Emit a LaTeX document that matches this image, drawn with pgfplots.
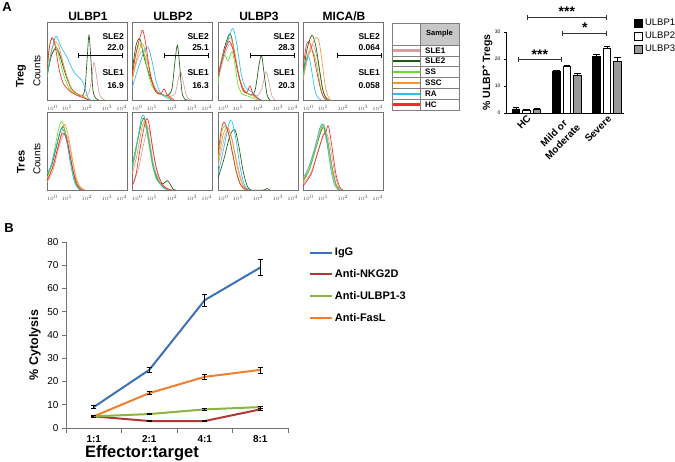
\documentclass[border=0pt]{standalone}
\usepackage{fontspec}
\setmainfont{Liberation Sans}
\usepackage{pgfplots}
\pgfplotsset{compat=1.18}
\usetikzlibrary{arrows.meta}

\definecolor{cSLEa}{RGB}{215,160,160}
\definecolor{cSLEb}{RGB}{30,90,20}
\definecolor{cSS}{RGB}{100,225,40}
\definecolor{cSSC}{RGB}{248,150,50}
\definecolor{cRA}{RGB}{40,190,240}
\definecolor{cHC}{RGB}{250,40,40}
\definecolor{cIgG}{RGB}{61,113,182}
\definecolor{cNKG}{RGB}{175,57,52}
\definecolor{cULB}{RGB}{140,180,65}
\definecolor{cFas}{RGB}{240,128,48}

\newcommand{\fs}[2]{\fontsize{#1}{#2}\selectfont}

\tikzset{
  hSLEa/.style={color=cSLEa},
  hSLEb/.style={color=cSLEb},
  hSS/.style={color=cSS},
  hSSC/.style={color=cSSC},
  hRA/.style={color=cRA},
  hHC/.style={color=cHC},
  gate/.style={black, line width=0.9pt, {Bar[width=5pt]}-{Bar[width=5pt]}},
  sig/.style={black!80, line width=0.8pt, {Bar[width=5pt]}-{Bar[width=5pt]}},
}

\pgfplotsset{
  hist/.style={
    scale only axis, width=80pt, height=78pt, anchor=north west,
    xmin=0, xmax=4, ymin=0, ymax=1,
    xtick={0,1,2,3,4},
    xticklabels={\rlap{$10^0$},$10^1$,$10^2$,$10^3$,\llap{$10^4$}},
    ytick=\empty,
    xticklabel style={font=\fs{2.8}{3}, text=black!70},
    major tick length=1.5pt, xtick align=outside, xtick pos=left,
    axis line style={black!55, line width=0.7pt},
    every axis plot/.append style={line width=0.65pt, smooth, mark=none, tension=0.5},
  },
  errB/.style={line width=2pt, mark=none,
    /pgfplots/error bars/.cd, y dir=both, y explicit,
    error bar style={black, line width=0.6pt},
    error mark options={rotate=90, black, mark size=2.5pt, line width=0.6pt}},
  errA/.style={
    /pgfplots/error bars/.cd, y dir=plus, y explicit,
    error bar style={black, line width=0.8pt},
    error mark options={rotate=90, black, mark size=3.3pt, line width=0.8pt}},
}

\begin{document}
\begin{tikzpicture}[x=1pt,y=1pt]
\useasboundingbox (0,0) rectangle (675,461);

% ---------- Treg row ----------
\begin{axis}[hist, at={(47pt,439pt)}]
\addplot[hSLEa] coordinates {(0,0.3) (0.2,0.55) (0.45,0.68) (0.7,0.55) (1.0,0.3) (1.3,0.12) (1.6,0.07) (1.9,0.05) (2.1,0.1) (2.25,0.3) (2.35,0.48) (2.45,0.35) (2.6,0.1) (2.75,0.02) (2.9,0)};
\addplot[hSLEb] coordinates {(0,0.3) (0.2,0.55) (0.4,0.65) (0.6,0.6) (0.9,0.35) (1.2,0.15) (1.5,0.08) (1.75,0.05) (1.9,0.15) (2.0,0.5) (2.1,0.83) (2.2,0.5) (2.3,0.12) (2.45,0.02) (2.6,0)};
\addplot[hSS] coordinates {(0,0.35) (0.15,0.72) (0.3,0.78) (0.5,0.65) (0.8,0.35) (1.1,0.15) (1.4,0.08) (1.7,0.06) (1.9,0.02) (2.1,0)};
\addplot[hSSC] coordinates {(0,0.3) (0.2,0.6) (0.4,0.75) (0.6,0.68) (0.9,0.38) (1.2,0.15) (1.5,0.08) (1.8,0.05) (2.1,0)};
\addplot[hRA] coordinates {(0,0.3) (0.2,0.6) (0.45,0.82) (0.7,0.68) (1.0,0.55) (1.3,0.38) (1.55,0.3) (1.75,0.25) (1.9,0.15) (2.05,0.03) (2.2,0)};
\addplot[hHC] coordinates {(0,0.35) (0.1,0.65) (0.25,0.8) (0.4,0.7) (0.6,0.4) (0.8,0.22) (1.0,0.15) (1.2,0.1) (1.5,0.06) (1.8,0.03) (2.1,0)};
\draw[gate] (axis cs:1.57,0.57) -- (axis cs:3.77,0.57);
\end{axis}

\begin{axis}[hist, at={(132pt,439pt)}]
\addplot[hSLEa] coordinates {(0,0.25) (0.25,0.5) (0.5,0.62) (0.75,0.5) (1.0,0.25) (1.3,0.1) (1.6,0.06) (1.9,0.05) (2.15,0.08) (2.3,0.25) (2.43,0.36) (2.55,0.25) (2.7,0.07) (2.85,0.01) (3.0,0)};
\addplot[hSLEb] coordinates {(0,0.35) (0.2,0.7) (0.4,0.78) (0.6,0.55) (0.9,0.3) (1.2,0.12) (1.5,0.07) (1.8,0.06) (2.0,0.15) (2.15,0.5) (2.27,0.7) (2.38,0.45) (2.5,0.1) (2.65,0.01) (2.8,0)};
\addplot[hSS] coordinates {(0,0.3) (0.2,0.6) (0.4,0.72) (0.6,0.6) (0.8,0.35) (1.0,0.18) (1.3,0.08) (1.6,0.06) (1.8,0.04) (2.0,0)};
\addplot[hSSC] coordinates {(0,0.25) (0.25,0.55) (0.5,0.72) (0.7,0.6) (0.95,0.3) (1.2,0.12) (1.5,0.07) (1.75,0.05) (2.0,0)};
\addplot[hRA] coordinates {(0,0.15) (0.3,0.4) (0.6,0.62) (0.8,0.68) (1.0,0.5) (1.2,0.25) (1.4,0.1) (1.6,0.05) (1.8,0.02) (2.0,0)};
\addplot[hHC] coordinates {(0,0.3) (0.2,0.6) (0.45,0.85) (0.55,0.89) (0.7,0.7) (0.9,0.35) (1.1,0.15) (1.3,0.08) (1.45,0.08) (1.6,0.14) (1.75,0.07) (1.9,0.04) (2.1,0)};
\draw[gate] (axis cs:1.6,0.57) -- (axis cs:3.83,0.57);
\end{axis}

\begin{axis}[hist, at={(218pt,439pt)}]
\addplot[hSLEa] coordinates {(0,0.25) (0.3,0.55) (0.6,0.72) (0.85,0.55) (1.1,0.25) (1.4,0.1) (1.7,0.06) (2.0,0.06) (2.2,0.15) (2.35,0.33) (2.43,0.36) (2.55,0.22) (2.7,0.05) (2.85,0)};
\addplot[hSLEb] coordinates {(0,0.3) (0.3,0.65) (0.6,0.85) (0.8,0.65) (1.05,0.3) (1.3,0.12) (1.6,0.07) (1.85,0.12) (2.05,0.45) (2.18,0.57) (2.3,0.35) (2.45,0.07) (2.6,0)};
\addplot[hSS] coordinates {(0,0.2) (0.15,0.5) (0.33,0.58) (0.5,0.5) (0.7,0.62) (0.85,0.45) (1.0,0.2) (1.2,0.08) (1.5,0.05) (1.8,0.02) (2.0,0)};
\addplot[hSSC] coordinates {(0,0.3) (0.3,0.62) (0.6,0.8) (0.8,0.65) (1.05,0.3) (1.3,0.12) (1.6,0.07) (1.9,0.03) (2.1,0)};
\addplot[hRA] coordinates {(0,0.3) (0.3,0.6) (0.6,0.85) (0.77,0.91) (0.95,0.7) (1.15,0.35) (1.35,0.17) (1.6,0.12) (1.8,0.08) (2.0,0.02) (2.2,0)};
\addplot[hHC] coordinates {(0,0.3) (0.3,0.6) (0.55,0.75) (0.75,0.65) (1.0,0.35) (1.25,0.12) (1.45,0.1) (1.6,0.18) (1.75,0.08) (1.95,0.03) (2.1,0)};
\draw[gate] (axis cs:1.6,0.57) -- (axis cs:3.83,0.57);
\end{axis}

\begin{axis}[hist, at={(303pt,439pt)}]
\addplot[hSLEa] coordinates {(0,0.3) (0.25,0.6) (0.5,0.7) (0.7,0.55) (0.9,0.25) (1.05,0.07) (1.2,0)};
\addplot[hSLEb] coordinates {(0,0.3) (0.2,0.65) (0.45,0.83) (0.65,0.68) (0.85,0.35) (1.0,0.12) (1.15,0.03) (1.3,0)};
\addplot[hSS] coordinates {(0,0.3) (0.2,0.55) (0.45,0.63) (0.65,0.5) (0.85,0.2) (1.0,0.05) (1.15,0)};
\addplot[hSSC] coordinates {(0,0.25) (0.2,0.5) (0.45,0.7) (0.65,0.8) (0.8,0.75) (0.95,0.5) (1.1,0.2) (1.25,0.05) (1.4,0)};
\addplot[hRA] coordinates {(0,0.3) (0.15,0.5) (0.3,0.55) (0.45,0.35) (0.6,0.12) (0.75,0.03) (0.9,0)};
\addplot[hHC] coordinates {(0,0.4) (0.15,0.68) (0.3,0.75) (0.5,0.6) (0.7,0.35) (0.9,0.12) (1.05,0.03) (1.2,0)};
\draw[gate] (axis cs:1.72,0.57) -- (axis cs:3.92,0.57);
\end{axis}

% ---------- Tres row ----------
\begin{axis}[hist, at={(47pt,349pt)}]
\addplot[hSLEa] coordinates {(0,0.1) (0.3,0.25) (0.6,0.55) (0.85,0.72) (1.05,0.65) (1.25,0.4) (1.45,0.15) (1.65,0.03) (1.85,0)};
\addplot[hSLEb] coordinates {(0,0.18) (0.25,0.33) (0.5,0.58) (0.7,0.78) (0.85,0.8) (1.05,0.58) (1.25,0.3) (1.45,0.08) (1.65,0)};
\addplot[hSS] coordinates {(0,0.15) (0.2,0.3) (0.4,0.55) (0.6,0.8) (0.75,0.88) (0.95,0.7) (1.15,0.4) (1.35,0.15) (1.55,0.04) (1.75,0)};
\addplot[hSSC] coordinates {(0,0.1) (0.25,0.28) (0.5,0.5) (0.75,0.75) (0.9,0.84) (1.1,0.65) (1.3,0.35) (1.5,0.12) (1.7,0.03) (1.9,0)};
\addplot[hRA] coordinates {(0,0.2) (0.2,0.32) (0.45,0.55) (0.65,0.75) (0.8,0.78) (1.0,0.6) (1.2,0.3) (1.4,0.08) (1.6,0.01) (1.7,0)};
\addplot[hHC] coordinates {(0,0.12) (0.3,0.3) (0.55,0.55) (0.75,0.72) (0.95,0.68) (1.15,0.45) (1.35,0.2) (1.55,0.05) (1.75,0)};
\end{axis}

\begin{axis}[hist, at={(132pt,349pt)}]
\addplot[hSLEa] coordinates {(0,0.05) (0.3,0.25) (0.55,0.55) (0.8,0.8) (1.0,0.6) (1.2,0.3) (1.4,0.1) (1.65,0.03) (1.9,0)};
\addplot[hSLEb] coordinates {(0,0.3) (0.25,0.6) (0.5,0.88) (0.65,0.9) (0.85,0.62) (1.05,0.3) (1.3,0.12) (1.55,0.08) (1.75,0.12) (1.9,0.08) (2.05,0.01) (2.2,0)};
\addplot[hSS] coordinates {(0,0.3) (0.2,0.55) (0.45,0.85) (0.6,0.9) (0.8,0.65) (1.0,0.35) (1.2,0.15) (1.45,0.06) (1.7,0.01) (1.9,0)};
\addplot[hSSC] coordinates {(0,0.2) (0.25,0.45) (0.5,0.8) (0.7,0.88) (0.9,0.6) (1.1,0.3) (1.35,0.12) (1.6,0.04) (1.85,0)};
\addplot[hRA] coordinates {(0,0.25) (0.2,0.5) (0.45,0.9) (0.6,0.95) (0.8,0.7) (1.0,0.4) (1.2,0.2) (1.4,0.08) (1.6,0.02) (1.8,0)};
\addplot[hHC] coordinates {(0,0.05) (0.2,0.2) (0.45,0.6) (0.7,0.9) (0.85,0.85) (1.05,0.5) (1.25,0.25) (1.5,0.08) (1.75,0.02) (2.0,0)};
\end{axis}

\begin{axis}[hist, at={(218pt,349pt)}]
\addplot[hSLEa] coordinates {(0,0.3) (0.3,0.65) (0.5,0.78) (0.7,0.65) (0.95,0.35) (1.2,0.1) (1.4,0.02) (1.6,0)};
\addplot[hSLEb] coordinates {(0,0.15) (0.3,0.4) (0.6,0.7) (0.85,0.77) (1.05,0.55) (1.25,0.25) (1.45,0.06) (1.65,0) (2.3,0) (2.45,0.02) (2.6,0)};
\addplot[hSS] coordinates {(0,0.4) (0.2,0.75) (0.35,0.82) (0.55,0.7) (0.75,0.45) (0.95,0.2) (1.15,0.06) (1.35,0)};
\addplot[hSSC] coordinates {(0,0.35) (0.25,0.7) (0.45,0.8) (0.65,0.7) (0.85,0.45) (1.05,0.2) (1.25,0.06) (1.45,0)};
\addplot[hRA] coordinates {(0,0.2) (0.3,0.55) (0.55,0.85) (0.7,0.88) (0.9,0.65) (1.1,0.3) (1.3,0.08) (1.5,0)};
\addplot[hHC] coordinates {(0,0.45) (0.15,0.75) (0.3,0.87) (0.5,0.75) (0.7,0.5) (0.9,0.25) (1.1,0.08) (1.3,0.02) (1.5,0)};
\end{axis}

\begin{axis}[hist, at={(303pt,349pt)}]
\addplot[hSLEa] coordinates {(0,0.08) (0.4,0.22) (0.7,0.45) (1.0,0.68) (1.2,0.72) (1.4,0.5) (1.6,0.2) (1.8,0.03) (2.0,0)};
\addplot[hSLEb] coordinates {(0,0.12) (0.3,0.25) (0.6,0.5) (0.9,0.75) (1.05,0.8) (1.25,0.6) (1.45,0.3) (1.65,0.07) (1.85,0)};
\addplot[hSS] coordinates {(0,0.1) (0.3,0.25) (0.6,0.5) (0.9,0.78) (1.05,0.84) (1.25,0.6) (1.45,0.3) (1.65,0.08) (1.85,0)};
\addplot[hSSC] coordinates {(0,0.12) (0.3,0.3) (0.6,0.55) (0.85,0.78) (1.0,0.82) (1.2,0.6) (1.4,0.3) (1.6,0.08) (1.8,0)};
\addplot[hRA] coordinates {(0,0.15) (0.3,0.3) (0.6,0.55) (0.85,0.8) (1.0,0.84) (1.2,0.6) (1.4,0.25) (1.6,0.05) (1.8,0)};
\addplot[hHC] coordinates {(0,0.05) (0.4,0.2) (0.7,0.45) (1.0,0.7) (1.15,0.75) (1.27,0.82) (1.45,0.55) (1.65,0.2) (1.85,0.03) (2.0,0)};
\end{axis}

% titles and labels of panel A
\node[font=\bfseries\fs{13}{15}] at (7,454) {A};
\foreach \x/\t in {88/{ULBP1}, 173/{ULBP2}, 259/{ULBP3}, 344/{MICA/B}}
  \node[font=\bfseries\fs{12}{14}] at (\x,445) {\t};
\node[font=\bfseries\fs{11}{13}, rotate=90] at (21,385) {Treg};
\node[font=\fs{10}{12}, rotate=90] at (37,390) {Counts};
\node[font=\bfseries\fs{11}{13}, rotate=90] at (21,299) {Tres};
\node[font=\fs{10}{12}, rotate=90] at (37,302) {Counts};
\foreach \x/\a/\b in {124/22.0/16.9, 209/25.1/16.3, 295/28.3/20.3, 380/0.064/0.058} {
  \node[font=\bfseries\fs{8.5}{10}, anchor=east, inner sep=0pt] at (\x,424) {SLE2};
  \node[font=\bfseries\fs{8.5}{10}, anchor=east, inner sep=0pt] at (\x,413) {\a};
  \node[font=\bfseries\fs{8.5}{10}, anchor=east, inner sep=0pt] at (\x,388) {SLE1};
  \node[font=\bfseries\fs{8.5}{10}, anchor=east, inner sep=0pt] at (\x,375) {\b};
}

% sample key table
\fill[black!22] (420,416) rectangle (459,438);
\node[font=\bfseries\fs{7.5}{9}] at (439.5,427) {Sample};
\foreach \i/\n/\c in {0/SLE1/cSLEa, 1/SLE2/cSLEb, 2/SS/cSS, 3/SSC/cSSC, 4/RA/cRA, 5/HC/cHC} {
  \draw[\c, line width=2.4pt] (393,{416-10.83*(\i+0.5)}) -- (420,{416-10.83*(\i+0.5)});
  \node[font=\bfseries\fs{8}{9}, anchor=west, inner sep=0pt] at (425,{416-10.83*(\i+0.5)}) {\n};
  \draw[black!50, line width=0.5pt] (392,{416-10.83*(\i+1)}) -- (459,{416-10.83*(\i+1)});
}
\draw[black!50, line width=0.6pt] (392,351) rectangle (459,438);
\draw[black!50, line width=0.6pt] (420,351) -- (420,438);
\draw[black!50, line width=0.6pt] (392,416) -- (459,416);

% ---------- bar chart ----------
\begin{axis}[
  scale only axis, width=118pt, height=81pt,
  at={(506pt,348pt)}, anchor=south west,
  xmin=-0.51, xmax=2.42, ymin=0, ymax=30,
  axis lines*=left, axis line style={black, line width=0.9pt},
  xtick={0,1,2}, xticklabels={HC,{Mild or\\Moderate},Severe},
  xticklabel style={rotate=45, anchor=north east, align=center, font=\bfseries\fs{10}{12.5}, inner sep=1pt},
  major x tick style={draw=none},
  ytick={0,10,20,30}, yticklabel style={font=\fs{5}{6}},
  ytick align=outside, major tick length=2pt, tick style={black, line width=0.6pt},
  /pgf/number format/assume math mode=true,
  ylabel={\% ULBP\textsuperscript{+} Tregs},
  ylabel style={font=\bfseries\fs{10.5}{12}, at={(axis description cs:-0.16,0.5)}, anchor=center},
  clip=false,
  legend style={at={(1.06,1.21)}, anchor=north west, draw=none, fill=none,
    font=\fs{9.5}{11}, row sep=1pt, legend cell align=left},
  legend image code/.code={\draw[#1,/tikz/.cd,line width=0.8pt] (0pt,-4pt) rectangle (8pt,4pt);},
]
\addplot[ybar, bar width=7.5pt, bar shift=0pt, fill=black, draw=black, line width=0.8pt, errA]
  coordinates {(-0.26,1.5) +- (0,0.4) (0.74,15.3) +- (0,0.4) (1.74,20.8) +- (0,1.0)};
\addlegendentry{ULBP1}
\addplot[ybar, bar width=7.5pt, bar shift=0pt, fill=white, draw=black, line width=0.8pt, errA]
  coordinates {(0,1.0) +- (0,0.2) (1,17.3) +- (0,0.3) (2,23.8) +- (0,1.0)};
\addlegendentry{ULBP2}
\addplot[ybar, bar width=7.5pt, bar shift=0pt, fill=black!40, draw=black, line width=0.8pt, errA]
  coordinates {(0.26,1.5) +- (0,0.2) (1.26,13.8) +- (0,1.0) (2.26,19.2) +- (0,1.5)};
\addlegendentry{ULBP3}
\draw[sig] (axis cs:-0.22,19.9) -- (axis cs:0.87,19.9);
\node[font=\bfseries\fs{14}{15}] at (axis cs:0.33,21.6) {***};
\draw[sig] (axis cs:0.88,29.6) -- (axis cs:2.0,29.6);
\node[font=\bfseries\fs{14}{15}] at (axis cs:1.45,31.5) {*};
\draw[sig] (axis cs:0.01,35.5) -- (axis cs:2.0,35.5);
\node[font=\bfseries\fs{14}{15}] at (axis cs:1.0,37.4) {***};
\end{axis}

% ---------- panel B ----------
\node[font=\bfseries\fs{13}{15}] at (9,233) {B};
\begin{axis}[
  scale only axis, width=222pt, height=186pt,
  at={(66pt,33pt)}, anchor=south west,
  xmin=0, xmax=4, ymin=0, ymax=80,
  axis lines*=left, axis line style={black!55, line width=0.6pt},
  xtick={0.5,1.5,2.5,3.5}, xticklabels={1:1,2:1,4:1,8:1},
  minor xtick={0,1,2,3,4},
  major x tick style={draw=none},
  minor x tick style={black!55, line width=0.6pt},
  ytick={0,10,...,80},
  y tick style={black!55, line width=0.6pt},
  xtick align=outside, ytick align=outside,
  major tick length=4pt, minor tick length=5pt,
  xticklabel style={font=\bfseries\fs{10}{12}},
  yticklabel style={font=\fs{10}{12}},
  /pgf/number format/assume math mode=true,
  legend style={at={(1.08,0.99)}, anchor=north west, draw=none, fill=none,
    font=\bfseries\fs{11}{13}, row sep=8.5pt, legend cell align=left},
  legend image code/.code={\draw[#1,/tikz/.cd,line width=2pt] (0pt,0pt) -- (22pt,0pt);},
]
\addplot[cIgG, errB] coordinates {(0.5,9) +- (0,0.6) (1.5,25) +- (0,1.2) (2.5,55) +- (0,2.7) (3.5,69) +- (0,3.5)};
\addlegendentry{IgG}
\addplot[cNKG, errB] coordinates {(0.5,5) +- (0,0.3) (1.5,3) +- (0,0.2) (2.5,3) +- (0,0.2) (3.5,8) +- (0,0.6)};
\addlegendentry{Anti-NKG2D}
\addplot[cULB, errB] coordinates {(0.5,5) +- (0,0.2) (1.5,6) +- (0,0.2) (2.5,8) +- (0,0.3) (3.5,9) +- (0,0.4)};
\addlegendentry{Anti-ULBP1-3}
\addplot[cFas, errB] coordinates {(0.5,5) +- (0,0.3) (1.5,15) +- (0,0.7) (2.5,22) +- (0,0.9) (3.5,25) +- (0,1.3)};
\addlegendentry{Anti-FasL}
\end{axis}
\node[font=\bfseries\fs{16.5}{18}] at (142,8) {Effector:target};
\node[font=\bfseries\fs{12.5}{14}, rotate=90] at (35,116) {\% Cytolysis};

\end{tikzpicture}
\end{document}
